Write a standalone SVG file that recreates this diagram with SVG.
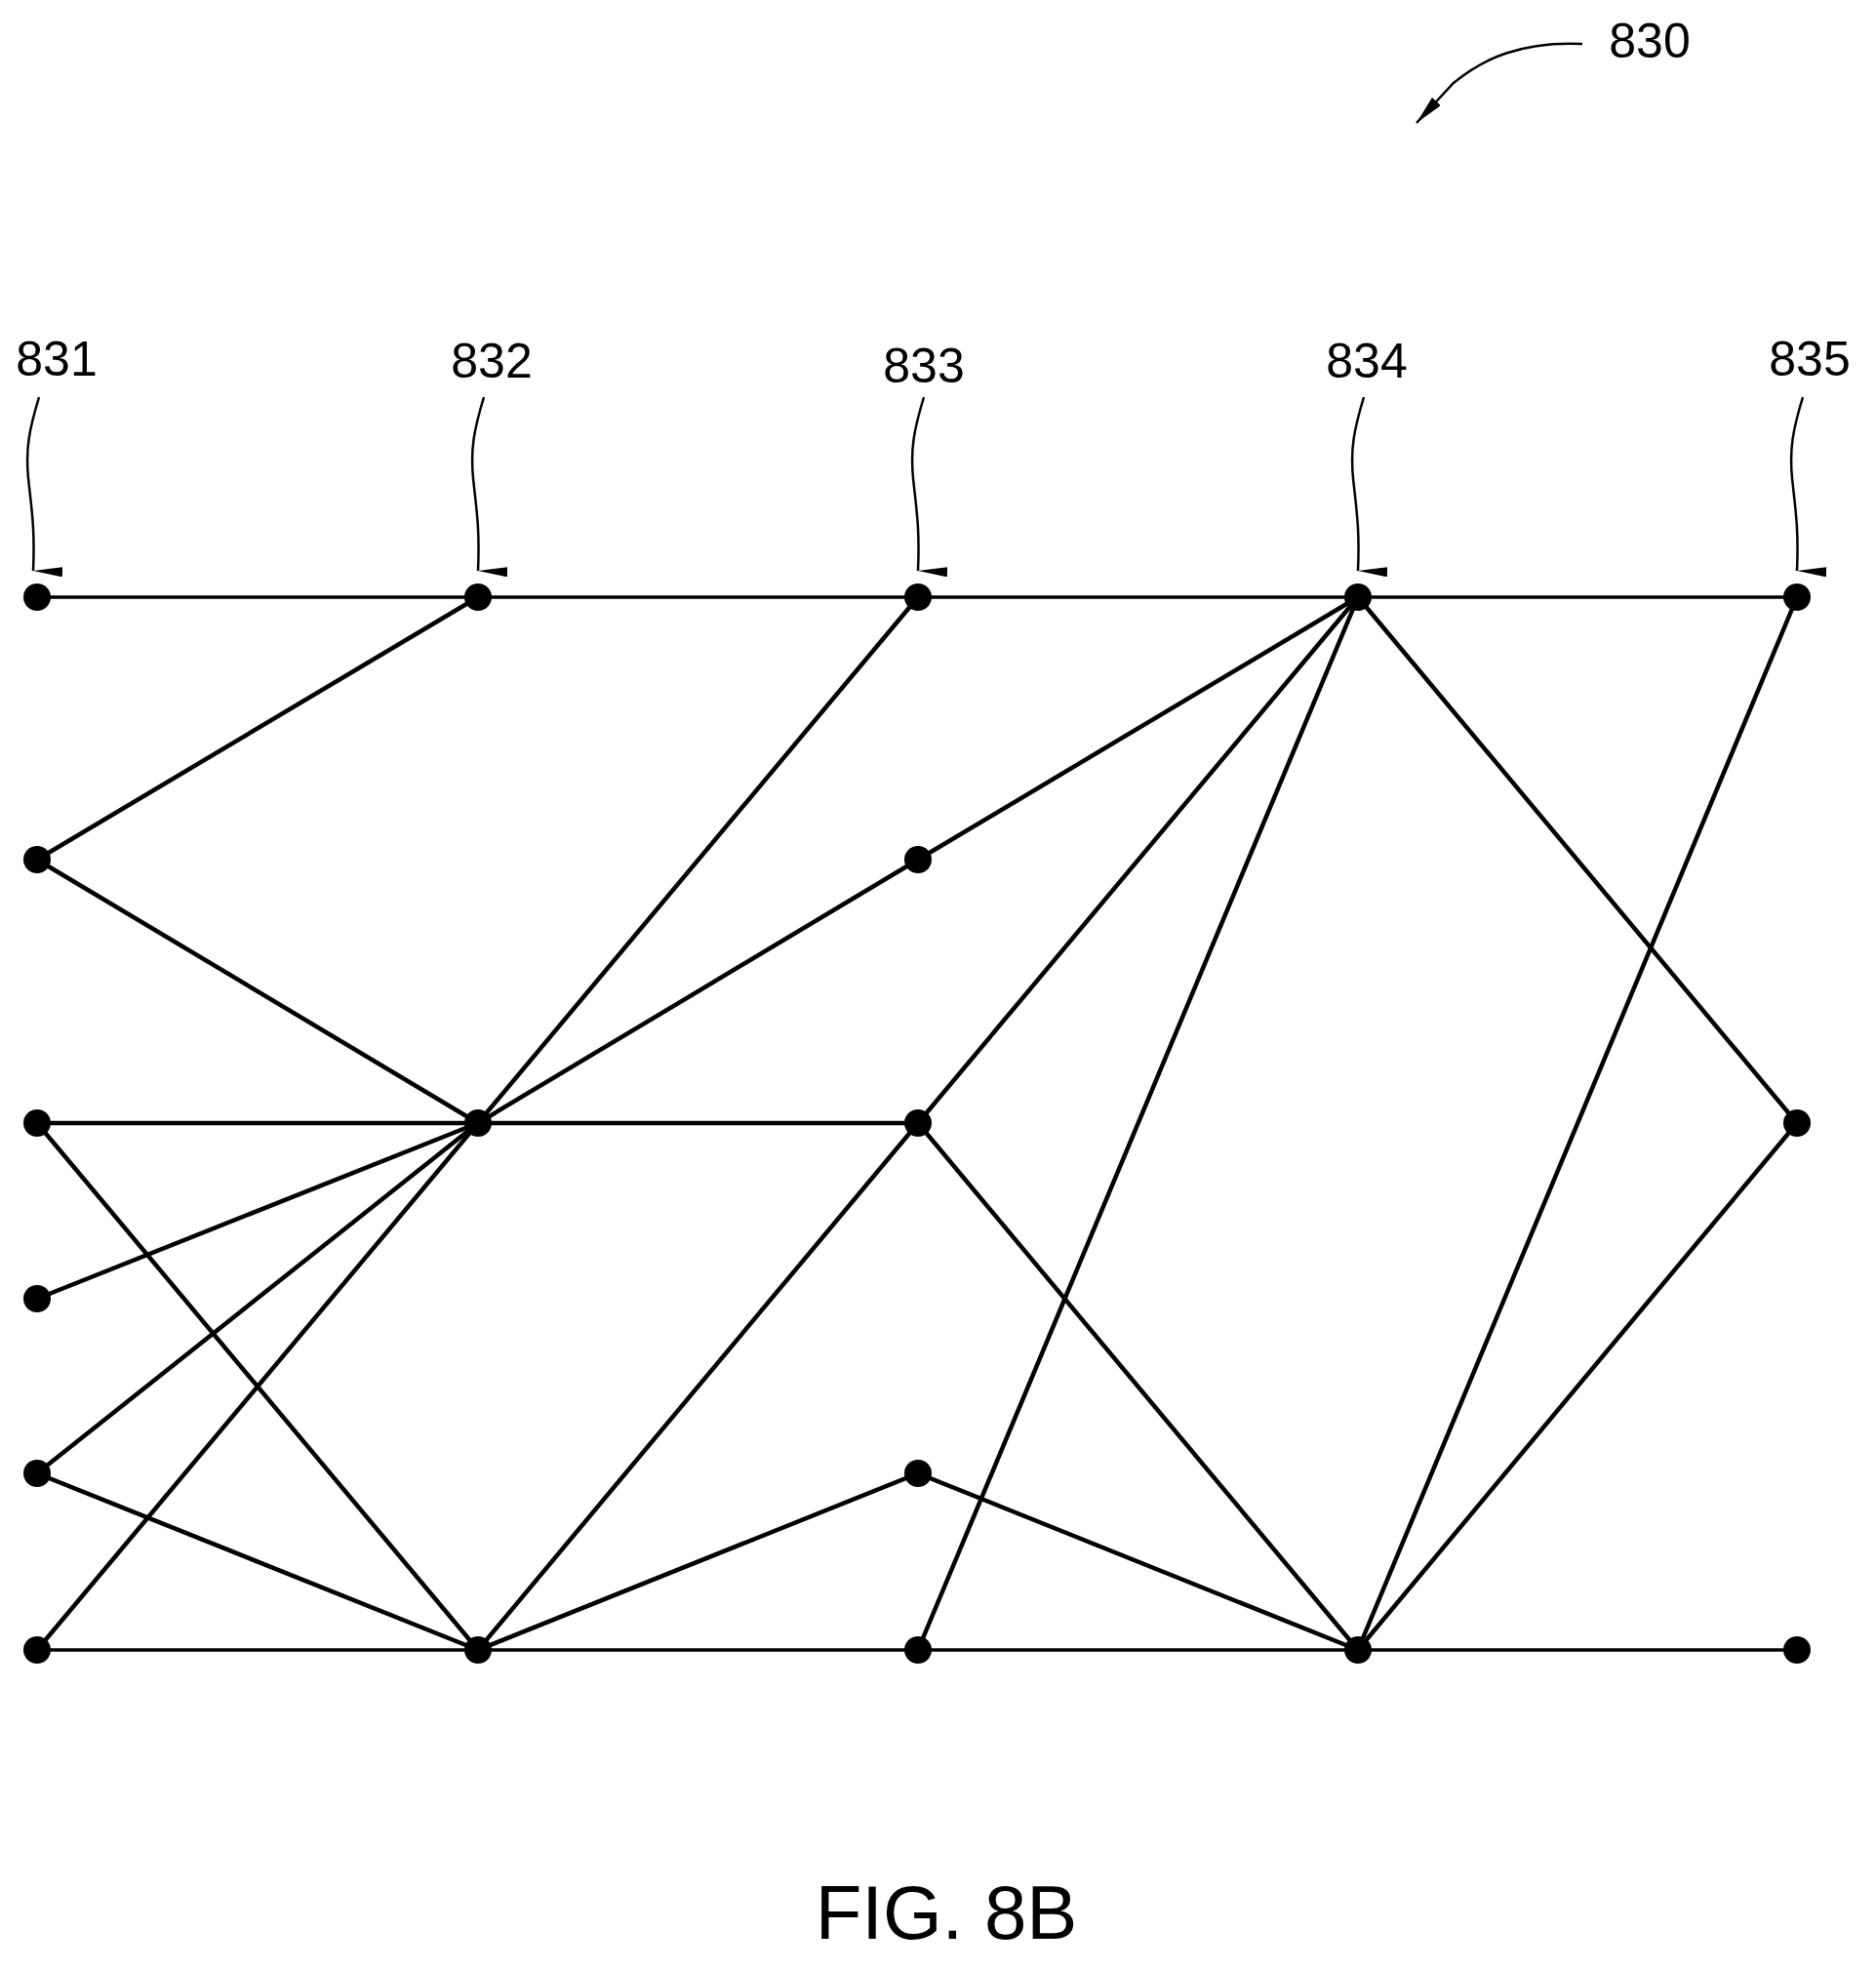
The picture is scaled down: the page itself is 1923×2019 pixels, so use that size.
<svg xmlns="http://www.w3.org/2000/svg" width="1923" height="2019" viewBox="0 0 1923 2019">
<defs>
<marker id="ah" viewBox="0 0 10 30" refX="5" refY="30" markerWidth="10" markerHeight="30" markerUnits="userSpaceOnUse" orient="auto-start-reverse">
<path d="M0,0 L10,0 L5,30 Z" fill="#000"/>
</marker>
<marker id="ah2" viewBox="0 0 30 12" refX="30" refY="6" markerWidth="30" markerHeight="12" markerUnits="userSpaceOnUse" orient="auto">
<path d="M0,0 L30,6 L0,12 Z" fill="#000"/>
</marker>
<style>
.t{font-family:"Liberation Sans",Arial,sans-serif;font-size:50px;fill:#000;text-anchor:middle}
.e{stroke:#000;stroke-width:4.5;fill:none}
.h{stroke:#000;stroke-width:3.5;fill:none}
.w{stroke:#000;stroke-width:2.5;fill:none}
.n{fill:#000}
</style>
</defs>
<rect width="1923" height="2019" fill="#fff"/>
<g id="connectors">
<line class="h" x1="38" y1="612" x2="1842" y2="612"/>
<line class="h" x1="38" y1="1691" x2="1842" y2="1691"/>
<line class="e" x1="38" y1="1151" x2="941" y2="1151"/>
<line class="e" x1="490" y1="612" x2="38" y2="881"/>
<line class="e" x1="38" y1="881" x2="490" y2="1151"/>
<line class="e" x1="941" y1="612" x2="490" y2="1151"/>
<line class="e" x1="941" y1="881" x2="490" y2="1151"/>
<line class="e" x1="1392" y1="612" x2="941" y2="881"/>
<line class="e" x1="1392" y1="612" x2="941" y2="1151"/>
<line class="e" x1="1392" y1="612" x2="941" y2="1691"/>
<line class="e" x1="1392" y1="612" x2="1842" y2="1151"/>
<line class="e" x1="1842" y1="612" x2="1392" y2="1691"/>
<line class="e" x1="1842" y1="1151" x2="1392" y2="1691"/>
<line class="e" x1="38" y1="1151" x2="490" y2="1691"/>
<line class="e" x1="38" y1="1331" x2="490" y2="1151"/>
<line class="e" x1="38" y1="1510" x2="490" y2="1151"/>
<line class="e" x1="38" y1="1510" x2="490" y2="1691"/>
<line class="e" x1="38" y1="1691" x2="490" y2="1151"/>
<line class="e" x1="490" y1="1691" x2="941" y2="1151"/>
<line class="e" x1="490" y1="1691" x2="941" y2="1510"/>
<line class="e" x1="941" y1="1510" x2="1392" y2="1691"/>
<line class="e" x1="941" y1="1151" x2="1392" y2="1691"/>
</g>
<g id="nodes">
<circle class="n" cx="38" cy="612" r="14"/><circle class="n" cx="38" cy="881" r="14"/><circle class="n" cx="38" cy="1151" r="14"/><circle class="n" cx="38" cy="1331" r="14"/><circle class="n" cx="38" cy="1510" r="14"/><circle class="n" cx="38" cy="1691" r="14"/>
<circle class="n" cx="490" cy="612" r="14"/><circle class="n" cx="490" cy="1151" r="14"/><circle class="n" cx="490" cy="1691" r="14"/>
<circle class="n" cx="941" cy="612" r="14"/><circle class="n" cx="941" cy="881" r="14"/><circle class="n" cx="941" cy="1151" r="14"/><circle class="n" cx="941" cy="1510" r="14"/><circle class="n" cx="941" cy="1691" r="14"/>
<circle class="n" cx="1392" cy="612" r="14"/><circle class="n" cx="1392" cy="1691" r="14"/>
<circle class="n" cx="1842" cy="612" r="14"/><circle class="n" cx="1842" cy="1151" r="14"/><circle class="n" cx="1842" cy="1691" r="14"/>
</g>
<g id="labels">
<text class="t" x="58" y="385">831</text>
<text class="t" x="504" y="387">832</text>
<text class="t" x="947" y="392">833</text>
<text class="t" x="1401" y="387">834</text>
<text class="t" x="1855" y="385">835</text>
<text class="t" x="1691" y="59">830</text>
<text class="t" x="970" y="1987" style="font-size:78px">FIG. 8B</text>
<path class="w" marker-end="url(#ah)" d="M40,407 C30,440 26,460 29,490 C32,520 36,540 34,585"/>
<path class="w" marker-end="url(#ah)" d="M496,407 C486,440 482,460 485,490 C488,520 492,540 490,585"/>
<path class="w" marker-end="url(#ah)" d="M947,407 C937,440 933,460 936,490 C939,520 943,540 941,585"/>
<path class="w" marker-end="url(#ah)" d="M1398,407 C1388,440 1384,460 1387,490 C1390,520 1394,540 1392,585"/>
<path class="w" marker-end="url(#ah)" d="M1848,407 C1838,440 1834,460 1837,490 C1840,520 1844,540 1842,585"/>
<path class="w" marker-end="url(#ah2)" d="M1622,45 C1560,42 1520,60 1490,85 L1452,126"/>
</g>
</svg>
